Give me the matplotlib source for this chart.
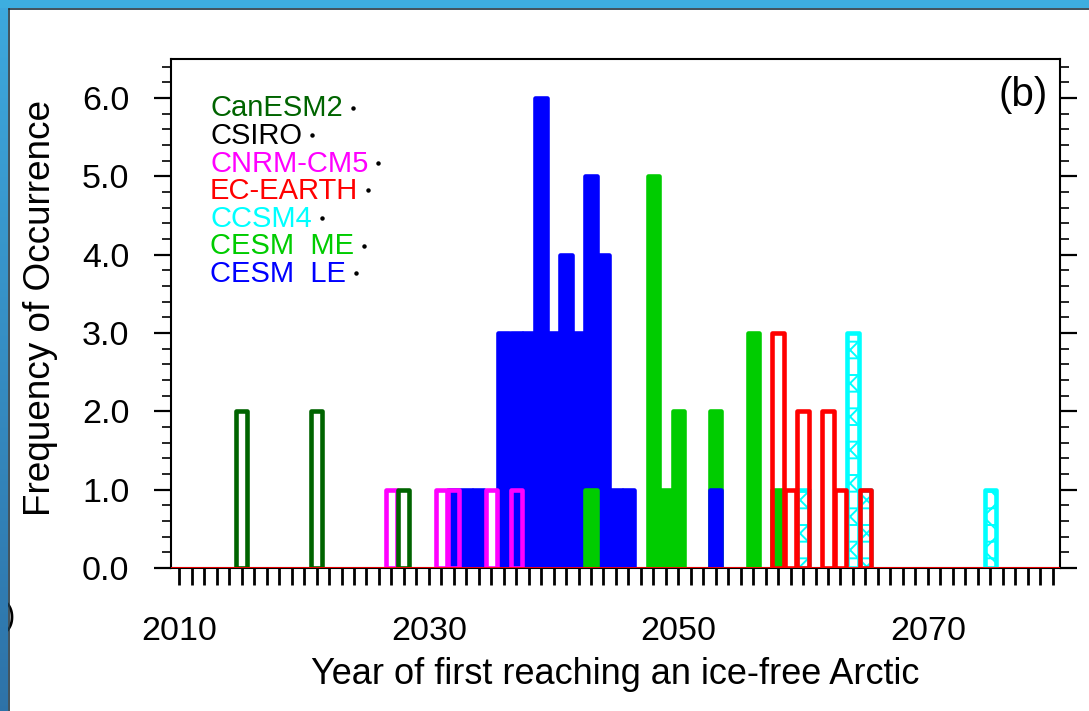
import numpy as np
import matplotlib
matplotlib.use("Agg")
import matplotlib.pyplot as plt
from matplotlib.patches import Rectangle
from matplotlib.ticker import FixedLocator, FixedFormatter

plt.rcParams['font.family'] = ['Liberation Sans', 'DejaVu Sans']
plt.rcParams['hatch.linewidth'] = 1.4

# ---------------- data: year of first ice-free Arctic, number of members ----------------
canesm2_years = [2015, 2021, 2028]
canesm2_counts = [2, 2, 1]

csiro_years = []
csiro_counts = []

cnrm_years = [2027, 2031, 2032, 2035, 2037]
cnrm_counts = [1, 1, 1, 1, 1]

ecearth_years = [2058, 2059, 2060, 2062, 2063, 2065]
ecearth_counts = [3, 1, 2, 2, 1, 1]

ccsm4_years = [2060, 2064, 2065, 2075]
ccsm4_counts = [1, 3, 1, 1]

cesm_me_years = [2043, 2048, 2049, 2050, 2053, 2056, 2058]
cesm_me_counts = [1, 5, 1, 2, 2, 3, 1]

cesm_le_years = [2032, 2033, 2034, 2036, 2037, 2038, 2039, 2040, 2041,
                 2042, 2043, 2044, 2045, 2046, 2053]
cesm_le_counts = [1, 1, 1, 3, 3, 3, 6, 3, 4, 3, 5, 4, 1, 1, 1]

legend_names = ["CanESM2", "CSIRO", "CNRM-CM5", "EC-EARTH", "CCSM4",
                "CESM  ME", "CESM  LE"]
legend_colors = ["#006400", "black", "#FF00FF", "#FF0000", "#00FFFF",
                 "#00CC00", "#0000FF"]

x_label_years = [2010, 2030, 2050, 2070]
y_major = [0, 1, 2, 3, 4, 5, 6]
y_labels = ["0.0", "1.0", "2.0", "3.0", "4.0", "5.0", "6.0"]

# ---------------- figure layout ----------------
W, H = 1089, 711
fig = plt.figure(figsize=(W / 100, H / 100), dpi=100)
fig.patch.set_facecolor("white")


def fx(px):
    return px / W


def fy(py):
    return 1 - py / H


# clipped panel label at the left margin
fig.text(fx(15), fy(617), ")", ha="right", va="center", fontsize=22, color="black")

# blue window frame (top band + left band with gradient)
left_ax = fig.add_axes([0, 0, fx(8), 1], zorder=5)
grad = np.linspace(0, 1, 256)[:, None]
top_col = np.array([0.24, 0.66, 0.87])
bot_col = np.array([0.18, 0.45, 0.66])
img = top_col[None, None, :] * (1 - grad[:, :, None]) + bot_col[None, None, :] * grad[:, :, None]
left_ax.imshow(img, aspect="auto", extent=[0, 1, 0, 1])
left_ax.set_axis_off()
fig.add_artist(Rectangle((0, fy(8)), 1, 8 / H, transform=fig.transFigure,
                         facecolor="#3daee0", edgecolor="none", zorder=6))
fig.add_artist(plt.Line2D([fx(8.5), 1], [fy(8.5), fy(8.5)], transform=fig.transFigure,
                          color="#1f3440", lw=1.2, zorder=7))
fig.add_artist(plt.Line2D([fx(8.5), fx(8.5)], [0, fy(8.5)], transform=fig.transFigure,
                          color="#1f3440", lw=1.2, zorder=7))

# ---------------- main axes ----------------
ax = fig.add_axes([fx(171), fy(568), (1060 - 171) / W, (568 - 59) / H])
ax.set_xlim(2009.33, 2080.6)
ax.set_ylim(0, 6.5)

bar_w = 0.9
lw_bar = 3.3

# filled ensembles: shorter bars drawn in front of taller ones
filled = [(cesm_le_years, cesm_le_counts, "#0000FF"),
          (cesm_me_years, cesm_me_counts, "#00CC00")]
for yrs, cnts, col in filled:
    for yr, c in zip(yrs, cnts):
        bars = ax.bar(yr, c, width=bar_w, color=col, edgecolor=col,
                      linewidth=lw_bar, zorder=2 + (7 - c) * 0.01)
        for b in bars:
            b.set_joinstyle("round")

# outlined ensembles
outlined = [(csiro_years, csiro_counts, "black", None),
            (cnrm_years, cnrm_counts, "#FF00FF", None),
            (canesm2_years, canesm2_counts, "#006400", None),
            (ccsm4_years, ccsm4_counts, "#00FFFF", "-x"),
            (ecearth_years, ecearth_counts, "#FF0000", None)]
for i, (yrs, cnts, col, hatch) in enumerate(outlined):
    if not yrs:
        continue
    bars = ax.bar(yrs, cnts, width=bar_w, facecolor="none", edgecolor=col,
                  linewidth=lw_bar, hatch=hatch, zorder=3 + i * 0.1)
    for b in bars:
        b.set_joinstyle("round")

# zero line
ax.axhline(0, color="#FF0000", lw=1.3, zorder=4)

# axes styling
for s in ax.spines.values():
    s.set_linewidth(1.5)
    s.set_zorder(1.5)

ax.xaxis.set_major_locator(FixedLocator(list(range(2010, 2081))))
ax.xaxis.set_major_formatter(FixedFormatter(
    [str(y) if y in x_label_years else "" for y in range(2010, 2081)]))
ax.tick_params(axis="x", which="major", direction="out", bottom=True, top=False,
               length=12.5, width=2.0, pad=22, labelsize=24.5)

ax.yaxis.set_major_locator(FixedLocator(y_major))
ax.yaxis.set_major_formatter(FixedFormatter(y_labels))
ax.yaxis.set_minor_locator(FixedLocator(np.round(np.arange(0, 6.41, 0.2), 1)))
ax.tick_params(axis="y", which="major", direction="out", left=True, right=True,
               length=12, width=1.6, pad=18, labelsize=24.5)
ax.tick_params(axis="y", which="minor", direction="out", left=True, right=True,
               length=6.5, width=1.2)

# axis titles
fig.text(fx(615.5), fy(675), "Year of first reaching an ice-free Arctic",
         ha="center", va="center", fontsize=26)
fig.text(fx(41), fy(308), "Frequency of Occurrence", rotation=90,
         ha="center", va="center", fontsize=26.6)

# panel label
fig.text(fx(1048), fy(76), "(b)", ha="right", va="top", fontsize=29)

# legend: coloured names followed by a small marker
fig.canvas.draw()
renderer = fig.canvas.get_renderer()
for k, (name, col) in enumerate(zip(legend_names, legend_colors)):
    yc = 108.5 + 27.6 * k
    t = fig.text(fx(210), fy(yc), name, color=col, ha="left", va="center",
                 fontsize=21)
    bb = t.get_window_extent(renderer)
    x_end = bb.x1  # display pixels from the left
    fig.add_artist(plt.Line2D([(x_end + 10) / W], [fy(yc - 1)],
                              transform=fig.transFigure, marker="o",
                              markersize=2.2, color="black", linestyle="none"))

fig.savefig("out.png", dpi=100)
